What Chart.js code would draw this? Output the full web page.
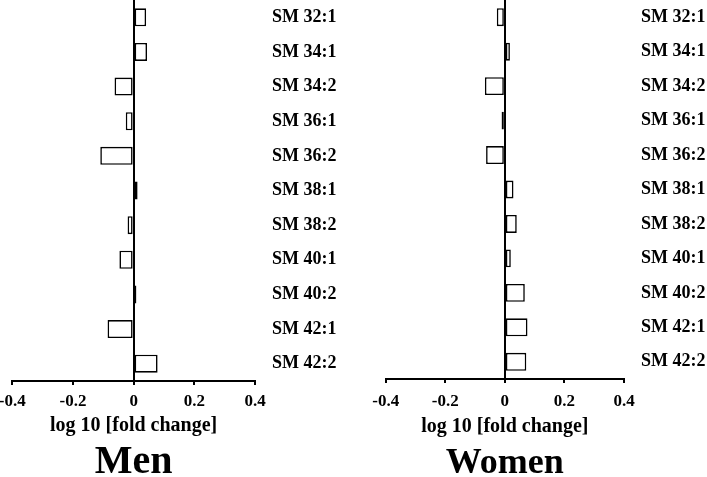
<!DOCTYPE html>
<html>
<head>
<meta charset="utf-8">
<script src="https://cdn.jsdelivr.net/npm/chart.js@4/dist/chart.umd.min.js"></script>
<style>
  html, body { margin: 0; padding: 0; background: #fff; }
  body { width: 707px; height: 477px; position: relative; overflow: hidden; }
  canvas { position: absolute; top: 0; }
</style>
</head>
<body>
<canvas id="men" width="360" height="477" style="left:0px;width:360px;height:477px"></canvas>
<canvas id="women" width="347" height="477" style="left:360px;width:347px;height:477px"></canvas>
<script>
const categories = ['SM 32:1', 'SM 34:1', 'SM 34:2', 'SM 36:1', 'SM 36:2', 'SM 38:1', 'SM 38:2', 'SM 40:1', 'SM 40:2', 'SM 42:1', 'SM 42:2'];
const menValues = [0.041, 0.044, -0.063, -0.026, -0.110, 0.013, -0.020, -0.047, 0.009, -0.086, 0.079];
const womenValues = [-0.027, 0.017, -0.067, -0.011, -0.063, 0.029, 0.040, 0.020, 0.067, 0.076, 0.072];
const xTickValues = [-0.4, -0.2, 0, 0.2, 0.4];
const xTickLabels = ['-0.4', '-0.2', '0', '0.2', '0.4'];
const axisTitle = 'log 10 [fold change]';
const panelTitles = ['Men', 'Women'];

const FAMILY = '"Liberation Serif", "Times New Roman", Times, serif';

function makeChart(id, values, title, cfg) {
  return new Chart(document.getElementById(id), {
    type: 'bar',
    data: {
      labels: categories,
      datasets: [{
        data: values,
        backgroundColor: '#ffffff',
        borderColor: '#000000',
        borderWidth: 1.6,
        borderSkipped: false,
        categoryPercentage: 1,
        barPercentage: 0.52
      }]
    },
    options: {
      indexAxis: 'y',
      responsive: false,
      devicePixelRatio: 1,
      animation: false,
      layout: { padding: { left: cfg.left, right: 0, top: 0, bottom: 0 } },
      plugins: {
        legend: { display: false },
        tooltip: { enabled: false },
        title: {
          display: true,
          text: title,
          position: 'bottom',
          fullSize: false,
          color: '#000',
          font: { family: FAMILY, size: cfg.titleSize, weight: 'bold', lineHeight: cfg.titleLH },
          padding: { top: cfg.titlePad, bottom: 0 }
        }
      },
      scales: {
        x: {
          type: 'linear',
          position: 'bottom',
          min: -0.4,
          max: 0.4,
          afterBuildTicks: (scale) => { scale.ticks = xTickValues.map(v => ({ value: v })); },
          afterFit: (scale) => { scale.height = cfg.xH; scale.paddingLeft = 0; scale.paddingRight = 0; },
          ticks: {
            color: '#000',
            padding: cfg.tickPad,
            maxRotation: 0,
            autoSkip: false,
            font: { family: FAMILY, size: 17, weight: 'bold' },
            callback: (v) => xTickLabels[xTickValues.indexOf(v)] ?? ''
          },
          grid: {
            display: true,
            drawOnChartArea: true,
            drawTicks: true,
            tickLength: 4,
            tickWidth: 2,
            tickColor: '#000',
            lineWidth: 2,
            color: (ctx) => (ctx.tick && ctx.tick.value === 0) ? '#000' : 'rgba(0,0,0,0)'
          },
          border: { display: true, color: '#000', width: 2 },
          title: {
            display: true,
            text: axisTitle,
            color: '#000',
            font: { family: FAMILY, size: 20, weight: 'bold', lineHeight: 1.2 },
            padding: { top: 0, bottom: 0 }
          }
        },
        y: {
          type: 'category',
          position: 'right',
          offset: true,
          afterFit: (scale) => { scale.width = cfg.yW; scale.paddingTop = 0; scale.paddingBottom = 0; },
          ticks: {
            color: '#000',
            padding: 17,
            autoSkip: false,
            font: { family: FAMILY, size: 18, weight: 'bold' }
          },
          grid: { display: false, drawTicks: false },
          border: { display: false }
        }
      }
    }
  });
}

makeChart('men', menValues, panelTitles[0], {
  left: 12.3, yW: 105, xH: 56.5, tickPad: 6.5, titleSize: 40, titleLH: 0.7, titlePad: 11.5
});
makeChart('women', womenValues, panelTitles[1], {
  left: 25.7, yW: 83, xH: 59.5, tickPad: 8.5, titleSize: 36, titleLH: 0.761, titlePad: 11.1
});
</script>
</body>
</html>
